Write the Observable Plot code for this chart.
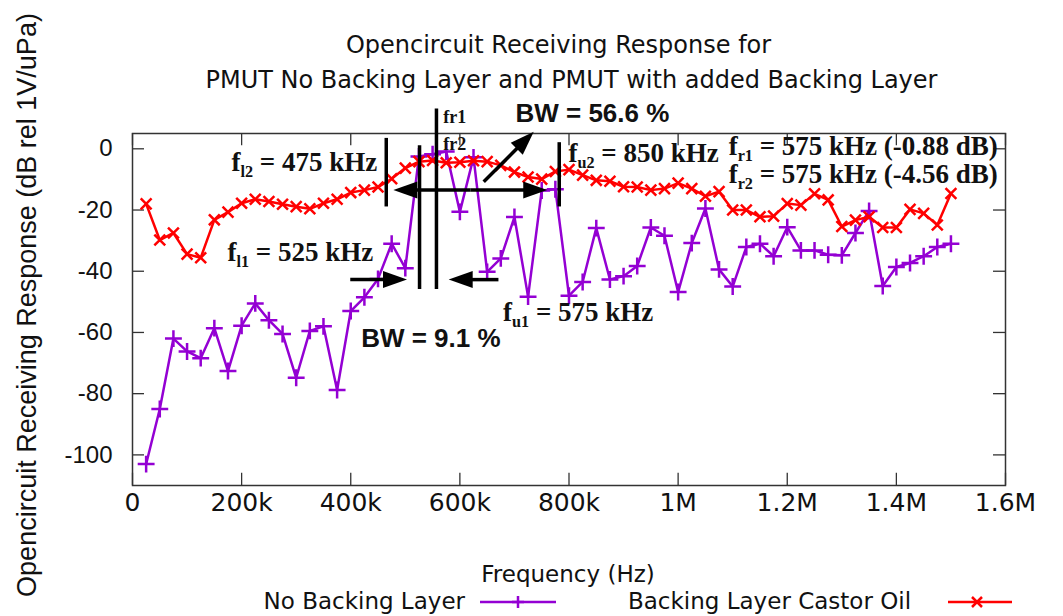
<!DOCTYPE html>
<html><head><meta charset="utf-8">
<script src="https://cdn.jsdelivr.net/npm/d3@7"></script>
<script src="https://cdn.jsdelivr.net/npm/@observablehq/plot@0.6"></script>
<style>
body{margin:0;background:#fff;width:1063px;height:616px;overflow:hidden;position:relative}
#chart{position:absolute;left:0;top:0}
.abs{position:absolute;white-space:nowrap;color:#111}
.title{font-family:"DejaVu Sans",sans-serif;font-size:24px;line-height:28px;width:1063px;text-align:center}
.leg{font-family:"DejaVu Sans",sans-serif;font-size:23px;line-height:26px}
</style></head><body>
<div id="chart"></div>
<div class="abs title" style="left:27px;top:31px">Opencircuit Receiving Response for</div>
<div class="abs title" style="left:40px;top:66px">PMUT No Backing Layer and PMUT with added Backing Layer</div>
<div class="abs" style="left:27px;top:305px;transform:translate(-50%,-50%) rotate(-90deg);font-family:'Liberation Sans',Arial,sans-serif;font-size:27px">Opencircuit Receiving Response (dB rel 1V/uPa)</div>
<div class="abs leg" style="left:568px;top:561px;transform:translateX(-50%)">Frequency (Hz)</div>
<div class="abs leg" style="right:598px;top:588px">No Backing Layer</div>
<div class="abs leg" style="left:628px;top:588px">Backing Layer Castor Oil</div>
<svg class="abs" style="left:478px;top:590px" width="80" height="24"><line x1="2" x2="78" y1="12" y2="12" stroke="#9400D3" stroke-width="2.5"/><path d="M40,6V18M34,12H46" stroke="#9400D3" stroke-width="2.5"/></svg>
<svg class="abs" style="left:946px;top:590px" width="68" height="24"><line x1="2" x2="66" y1="12" y2="12" stroke="#ff0000" stroke-width="2.5"/><path d="M26,7L36,17M36,7L26,17" stroke="#ff0000" stroke-width="2.5"/></svg>
<script>
// Frequencies (kHz)
const freqKHz = [25,50,75,100,125,150,175,200,225,250,275,300,325,350,375,400,425,450,475,500,
  525,550,575,600,625,650,675,700,725,750,775,800,825,850,875,900,925,950,975,1000,
  1025,1050,1075,1100,1125,1150,1175,1200,1225,1250,1275,1300,1325,1350,1375,1400,1425,1450,1475,1500];
// No Backing Layer (dB)
const noBacking = [-103,-85,-62,-66.2,-68.4,-58.6,-72.6,-57.8,-50.5,-56,-60.5,-74.8,-59.5,-58,-78.8,-53,-48.5,-42.5,-31,-39,
  -2.5,-1.8,-0.88,-20.6,-2.8,-40.2,-35.8,-22.3,-48.3,-13.6,-13.2,-48,-43.5,-25.9,-42.7,-41.6,-38.3,-25.7,-28.4,-46.8,
  -30.8,-19.5,-39.4,-45,-32.1,-31,-35.1,-25.6,-33.2,-33.2,-34.6,-34.8,-27.5,-20.3,-44.8,-38.6,-37.3,-35.1,-32.1,-31];
// Backing Layer Castor Oil (dB)
const castorOil = [-18,-29.8,-27.5,-34.4,-35.6,-23.2,-20.7,-17.8,-16.5,-17.2,-18.1,-18.9,-19.6,-17.8,-16.5,-14.3,-13.5,-12.5,-9.8,-6.3,
  -4.2,-3.8,-4.56,-4.4,-3.9,-4.2,-5.4,-7.6,-9.2,-9.9,-7.4,-6.8,-8.6,-10.3,-10.6,-12.4,-12.5,-13.5,-13,-11.2,
  -13,-15.5,-14,-20,-20,-22.2,-22,-17.9,-18.4,-14.7,-16.7,-25.4,-23.3,-22.2,-25.7,-25.7,-19.8,-21.1,-24.9,-14.6];
// Axes
const xTicks = [0,200000,400000,600000,800000,1000000,1200000,1400000,1600000];
const xTickLabels = ["0","200k","400k","600k","800k","1M","1.2M","1.4M","1.6M"];
const yTicks = [0,-20,-40,-60,-80,-100];
const yTickLabels = ["0","-20","-40","-60","-80","-100"];
// Annotations (Hz, dB)
const markerLines = [
  {x:466000,y1:3.4,y2:-19},{x:527000,y1:1,y2:-46},{x:558000,y1:13,y2:-46},{x:783000,y1:2,y2:-19}];
const arrows = [
  {x1:620000,y1:-13.6,x2:479000,y2:-13.6},{x1:620000,y1:-13.6,x2:761000,y2:-13.6},
  {x1:400000,y1:-42.9,x2:504000,y2:-42.9},{x1:671600,y1:-42.9,x2:580400,y2:-42.9},
  {x1:644600,y1:-10.9,x2:736300,y2:5.4}];
const freqLabels = [
  {x:449500,y:-7.4,anchor:"end",main:"f",sub:"l2",rest:" = 475 kHz"},
  {x:442000,y:-36.9,anchor:"end",main:"f",sub:"l1",rest:" = 525 kHz"},
  {x:800000,y:-4.4,anchor:"start",main:"f",sub:"u2",rest:" = 850 kHz"},
  {x:680000,y:-56.3,anchor:"start",main:"f",sub:"u1",rest:" = 575 kHz"},
  {x:1093600,y:-2.2,anchor:"start",main:"f",sub:"r1",rest:" = 575 kHz (-0.88 dB)"},
  {x:1093600,y:-11.4,anchor:"start",main:"f",sub:"r2",rest:" = 575 kHz (-4.56 dB)"}];
const lineTags = [{x:570600,y:8.2,text:"fr1"},{x:570600,y:-0.55,text:"fr2"}];
const bwLabels = [{x:702800,y:8.7,text:"BW = 56.6 %"},{x:420000,y:-65,text:"BW = 9.1 %"}];

const tableA = freqKHz.map((f,i)=>({f:f*1000,v:noBacking[i]}));
const tableB = freqKHz.map((f,i)=>({f:f*1000,v:castorOil[i]}));
const xTickTable = xTicks.map((t,i)=>({t,label:xTickLabels[i]}));
const yTickTable = yTicks.map((t,i)=>({t,label:yTickLabels[i]}));

const serif = "'Liberation Serif','Times New Roman',serif";
const annotate = (index, scales) => {
  const x = scales.x, y = scales.y;
  const g = d3.create("svg:g").attr("text-anchor","start");
  for (const l of markerLines)
    g.append("line").attr("x1",x(l.x)).attr("x2",x(l.x)).attr("y1",y(l.y1)).attr("y2",y(l.y2))
      .attr("stroke","#000").attr("stroke-width",3.5);
  for (const a of arrows) {
    const X1=x(a.x1),Y1=y(a.y1),X2=x(a.x2),Y2=y(a.y2);
    const ang=Math.atan2(Y2-Y1,X2-X1), L=24, W=8.5;
    const c=Math.cos(ang), s=Math.sin(ang);
    const bx=X2-L*c, by=Y2-L*s;
    g.append("line").attr("x1",X1).attr("y1",Y1).attr("x2",bx+2*c).attr("y2",by+2*s)
      .attr("stroke","#000").attr("stroke-width",3.5);
    g.append("path").attr("fill","#000")
      .attr("d",`M${X2},${Y2}L${bx-W*s},${by+W*c}L${bx+W*s},${by-W*c}Z`);
  }
  for (const t of freqLabels) {
    const fs=27;
    const te=g.append("text").attr("x",x(t.x)).attr("y",y(t.y)).attr("text-anchor",t.anchor)
      .attr("font-family",serif).attr("font-size",fs).attr("font-weight","bold").attr("fill","#111");
    te.append("tspan").text(t.main);
    te.append("tspan").attr("font-size",fs*0.6).attr("dy",fs*0.22).text(t.sub);
    te.append("tspan").attr("dy",-fs*0.22).text(t.rest);
  }
  for (const t of lineTags)
    g.append("text").attr("x",x(t.x)).attr("y",y(t.y)).attr("text-anchor","start").attr("font-family",serif)
      .attr("font-size",18).attr("font-weight","bold").attr("fill","#111").text(t.text);
  for (const t of bwLabels)
    g.append("text").attr("x",x(t.x)).attr("y",y(t.y)).attr("text-anchor","start")
      .attr("font-family","'Liberation Sans',Arial,sans-serif")
      .attr("font-size",26).attr("font-weight","bold").attr("fill","#111").text(t.text);
  return g.node();
};

const purple="#9400D3", red="#ff0000";
const chart = Plot.plot({
  width:1063, height:616,
  marginLeft:132, marginRight:58, marginTop:133, marginBottom:131,
  style:{background:"transparent", overflow:"visible"},
  x:{domain:[0,1600000], axis:null},
  y:{domain:[-110,5], axis:null},
  marks:[
    Plot.ruleX(xTicks,{x:d=>d,y1:-110,y2:-106,stroke:"#333",strokeWidth:1.3}),
    Plot.ruleX(xTicks,{x:d=>d,y1:5,y2:1,stroke:"#333",strokeWidth:1.3}),
    Plot.ruleY(yTicks,{y:d=>d,x1:0,x2:22000,stroke:"#333",strokeWidth:1.3}),
    Plot.ruleY(yTicks,{y:d=>d,x1:1578000,x2:1600000,stroke:"#333",strokeWidth:1.3}),
    Plot.frame({stroke:"#333",strokeWidth:1.5}),
    Plot.text(xTickTable,{x:"t",text:"label",frameAnchor:"bottom",dy:25,fontSize:25,
      fontFamily:"'DejaVu Sans',sans-serif",fill:"#111"}),
    Plot.text(yTickTable,{y:"t",text:"label",frameAnchor:"left",dx:-20,textAnchor:"end",fontSize:24,
      fontFamily:"'Liberation Sans',Arial,sans-serif",fill:"#111"}),
    Plot.line(tableA,{x:"f",y:"v",stroke:purple,strokeWidth:2.5}),
    Plot.dot(tableA,{x:"f",y:"v",symbol:"plus",r:5.5,stroke:purple,strokeWidth:2.5}),
    Plot.line(tableB,{x:"f",y:"v",stroke:red,strokeWidth:2.5}),
    Plot.dot(tableB,{x:"f",y:"v",symbol:"times",r:5,stroke:red,strokeWidth:2.5}),
    annotate
  ]
});
document.getElementById("chart").appendChild(chart);
</script>
</body></html>
